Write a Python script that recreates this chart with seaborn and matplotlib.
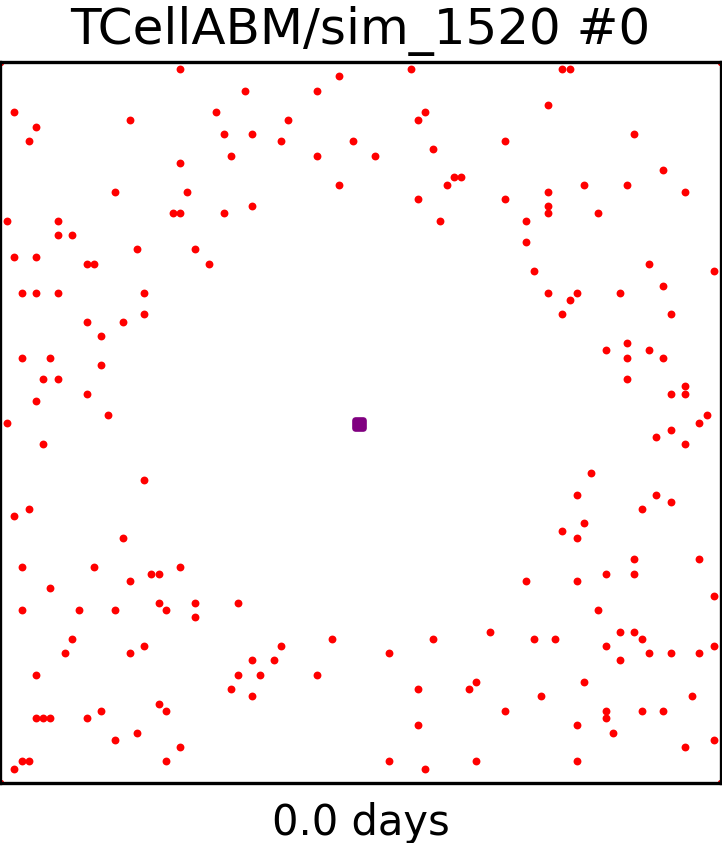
import matplotlib
matplotlib.use("Agg")
import matplotlib.pyplot as plt
from matplotlib.markers import MarkerStyle
import seaborn as sns
import pandas as pd

# T cell grid positions (column x, row y counted from top)
tcell_x = [25, 34, 2, 18, 30, 5, 31, 4, 32, 25, 16, 26, 24, 25, 31, 1, 8, 8, 10, 19, 27, 2, 5, 12, 13, 29, 3, 5, 8, 20,
           47, 44, 57, 59, 58, 40, 35, 39, 49, 44, 52, 60, 63, 64, 62, 47, 58, 35, 61,
           78, 79, 76, 88, 70, 92, 81, 87, 76, 95, 70, 76, 76, 83, 73, 73, 90, 74, 99, 92, 76, 80, 86, 79,
           20, 12, 17, 14, 3, 7, 14, 6, 8, 12, 5, 15, 1, 6, 20, 4, 2, 17,
           78, 93, 87, 84, 90, 87, 92, 87, 95, 93, 95, 98, 97, 93, 91, 95, 82, 80, 91, 93, 89, 81, 78, 80,
           3, 13, 25, 21, 22, 18, 7, 22, 27, 33, 3, 11, 16, 23, 27, 10, 20, 9, 18, 5, 33, 32, 22, 14, 23,
           5, 6, 7, 12, 19, 16, 25, 3, 4, 23, 2,
           46, 39, 35, 38, 36, 44, 35, 60, 54, 58, 65, 66, 58, 54, 66, 59,
           88, 97, 84, 88, 73, 80, 99, 83, 68, 74, 77, 86, 88, 89, 84, 99, 90, 93, 97, 86, 81, 75, 96,
           70, 84, 89, 92, 84, 80, 85, 99, 95, 80,
           0, 100, 0, 100]
tcell_y = [1, 4, 7, 8, 7, 9, 10, 11, 13, 14, 18, 18, 21, 21, 21, 22, 22, 24, 24, 26, 26, 27, 27, 28, 28, 28, 32, 32, 32, 32,
           2, 4, 1, 7, 8, 8, 10, 11, 11, 13, 13, 12, 16, 16, 17, 17, 19, 20, 22,
           1, 1, 6, 10, 11, 15, 17, 17, 18, 18, 19, 20, 21, 21, 22, 25, 28, 29, 29, 31, 32, 32, 32, 33,
           35, 36, 36, 38, 41, 41, 42, 44, 44, 46, 47, 49, 50, 53, 58, 62, 63, 66,
           35, 35, 39, 40, 40, 41, 41, 44, 45, 46, 46, 49, 50, 51, 52, 53, 57, 60, 60, 61, 62, 64, 65, 66,
           70, 70, 70, 71, 71, 72, 73, 75, 75, 75, 76, 76, 76, 76, 77, 80, 81, 82, 82, 85, 85, 87, 89, 90, 90,
           91, 91, 91, 91, 93, 94, 95, 97, 97, 97, 98,
           80, 81, 83, 83, 85, 85, 88, 80, 82, 87, 87, 86, 92, 97, 97, 98,
           69, 69, 71, 71, 72, 72, 74, 76, 79, 80, 80, 79, 79, 80, 81, 81, 82, 82, 82, 83, 86, 88, 88,
           90, 90, 90, 90, 91, 92, 93, 94, 95, 97,
           0, 0, 100, 100]

# tumour cell
tumor_x = [49.8]
tumor_y = [50.2]

title_text = "TCellABM/sim_1520 #0"
time_label = "0.0 days"

tcells = pd.DataFrame({"x": tcell_x, "y": tcell_y})
tumor = pd.DataFrame({"x": tumor_x, "y": tumor_y})

fig = plt.figure(figsize=(7.22, 8.43), dpi=100)
ax = fig.add_axes([0.0, 60 / 843, 721 / 722, 721 / 843])

sns.scatterplot(data=tcells, x="x", y="y", ax=ax, color="red", s=32,
                linewidth=0, zorder=2, clip_on=True)
sq = MarkerStyle("s", joinstyle="round")
sns.scatterplot(data=tumor, x="x", y="y", ax=ax, color="purple", s=30,
                marker=sq, edgecolor="purple", linewidth=4.8, zorder=3)

ax.set_xlim(0, 100)
ax.set_ylim(100, 0)
ax.set_xticks([])
ax.set_yticks([])
ax.set_ylabel("")
ax.set_xlabel(time_label, fontsize=30, labelpad=14)
ax.set_title(title_text, fontsize=36, pad=13)
for sp in ax.spines.values():
    sp.set_color("black")
    sp.set_linewidth(2.4)
    sp.set_zorder(5)

fig.savefig("out.png", dpi=100)
